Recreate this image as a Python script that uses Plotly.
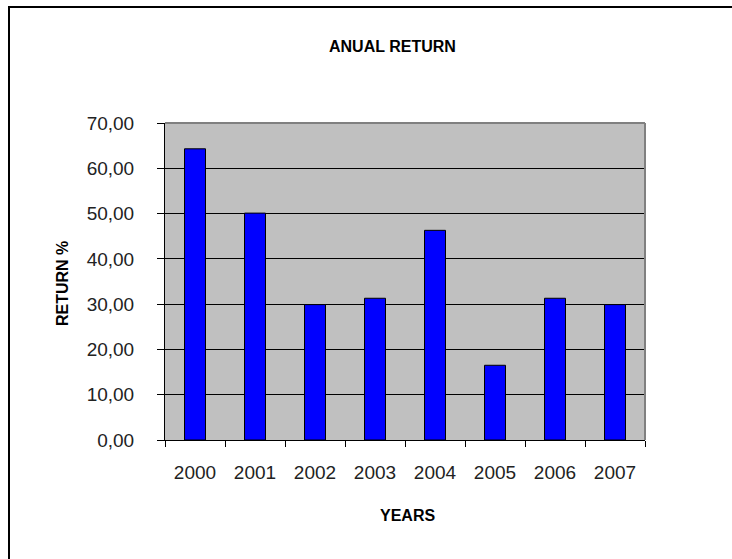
import plotly.graph_objects as go

years = ["2000", "2001", "2002", "2003", "2004", "2005", "2006", "2007"]
returns = [64.3, 50.1, 29.9, 31.3, 46.3, 16.5, 31.3, 29.9]

title_text = "ANUAL RETURN"
x_title = "YEARS"
y_title = "RETURN %"

W, H = 732, 559
L, R, T, B = 165, 645, 123, 440  # plot area in px

def px(x):
    return (x - L) / (R - L)

def py(y):
    return (B - y) / (B - T)

FONT = "Liberation Sans, Arial, sans-serif"

fig = go.Figure(go.Bar(
    x=years, y=returns,
    width=0.35,
    marker=dict(color="#0000FF", line=dict(color="#000000", width=1)),
))

fig.update_layout(
    width=W, height=H,
    margin=dict(l=L, r=W - R, t=T, b=H - B, pad=0),
    paper_bgcolor="white",
    plot_bgcolor="#C0C0C0",
    separators=",.",
    showlegend=False,
    font=dict(family=FONT, color="#000000"),
)

fig.update_xaxes(
    type="category",
    showgrid=False,
    showline=True, linecolor="#000000", linewidth=1,
    ticks="outside", ticklen=6, tickcolor="#000000", tickwidth=1,
    tickson="boundaries",
    tickfont=dict(size=19, family=FONT, color="#222222"),
    ticklabelstandoff=15,
)
fig.update_yaxes(
    range=[0, 70], dtick=10, tickformat=".2f",
    showgrid=True, gridcolor="#000000", gridwidth=1,
    zeroline=False,
    showline=True, linecolor="#000000", linewidth=1,
    ticks="outside", ticklen=7, tickcolor="#000000", tickwidth=1,
    tickfont=dict(size=19, family=FONT, color="#222222"),
    ticklabelstandoff=19,
)

shapes = [
    # outer chart border (cropped at right/bottom)
    dict(type="rect", xref="paper", yref="paper",
         x0=px(9), x1=px(820), y0=py(640), y1=py(7),
         line=dict(color="#000000", width=2), layer="above"),
    # plot area top and right border
    dict(type="line", xref="paper", yref="paper", x0=0, x1=1, y0=1, y1=1,
         line=dict(color="#808080", width=2), layer="above"),
    dict(type="line", xref="paper", yref="paper", x0=1, x1=1, y0=0, y1=1,
         line=dict(color="#808080", width=2), layer="above"),
]
fig.update_layout(shapes=shapes)

annotations = [
    dict(text="<b>" + title_text + "</b>", xref="paper", yref="paper",
         x=px(392), y=py(47), xanchor="center", yanchor="middle",
         showarrow=False, font=dict(size=16, family=FONT, color="#000000")),
    dict(text="<b>" + x_title + "</b>", xref="paper", yref="paper",
         x=px(407), y=py(515), xanchor="center", yanchor="middle",
         showarrow=False, font=dict(size=16, family=FONT, color="#000000")),
    dict(text="<b>" + y_title + "</b>", xref="paper", yref="paper",
         x=px(62), y=py(284), xanchor="center", yanchor="middle",
         textangle=-90,
         showarrow=False, font=dict(size=16, family=FONT, color="#000000")),
]
fig.update_layout(annotations=annotations)

fig.write_html("out.html")
